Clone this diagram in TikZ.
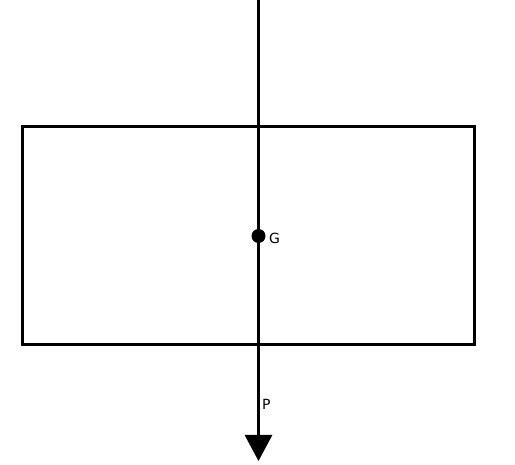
\documentclass[tikz,border=0pt]{standalone}
\usepackage{fontspec}
\setmainfont{DejaVu Sans}
\usetikzlibrary{arrows.meta}
\begin{document}
\begin{tikzpicture}[x=1pt,y=-1pt,
  body/.style={draw=black,line width=3pt},
  force/.style={line width=3pt,-{Triangle[length=26pt,width=27pt]}},
  lbl/.style={font=\fontsize{14}{14}\selectfont,inner sep=0pt}]
\useasboundingbox (0,0) rectangle (515,465);
\node[body,minimum width=452pt,minimum height=218pt,inner sep=0pt] (box) at (248.5,235.5) {};
\coordinate (top) at (258.5,0);
\coordinate (tip) at (258.5,461);
\draw[force] (top) -- (tip);
\node[circle,fill=black,minimum size=14pt,inner sep=0pt] (G) at (258.5,236) {};
\node[lbl,anchor=west] (Glbl) at (269,238) {G};
\node[lbl,anchor=west] (Plbl) at (262,404) {P};
\end{tikzpicture}
\end{document}
